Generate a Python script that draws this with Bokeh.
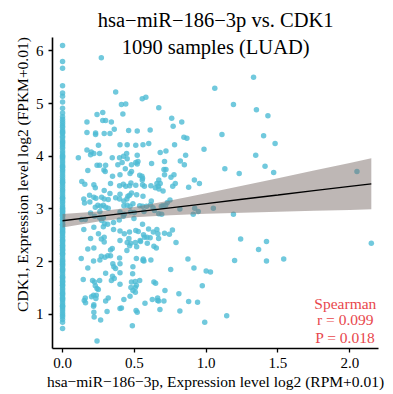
from bokeh.plotting import figure
from bokeh.models import FixedTicker, PrintfTickFormatter, Range1d, Label, ColumnDataSource
from bokeh.embed import file_html
from bokeh.resources import INLINE

# ---------------- data ----------------
title_lines = ["hsa\u2212miR\u2212186\u22123p vs. CDK1", "1090 samples (LUAD)"]
x_label = "hsa\u2212miR\u2212186\u22123p, Expression level log2 (RPM+0.01)"
y_label = "CDK1, Expression level log2 (FPKM+0.01)"
stat_lines = ["Spearman", "r = 0.099", "P = 0.018"]

x_ticks = [0, 0.5, 1, 1.5, 2]
y_ticks = [1, 2, 3, 4, 5, 6]

# samples with zero miRNA expression (x = 0)
zero_col_y = [6.10, 5.80, 5.67, 5.34, 5.20, 5.14, 5.03, 4.91, 4.82, 4.75, 4.70, 4.66, 4.62, 4.58,
              4.55, 4.50, 4.47, 4.43, 4.38, 4.35, 4.30, 4.27, 4.22, 4.18, 4.15, 4.10, 4.06, 4.02,
              3.98, 3.95, 3.91, 3.87, 3.83, 3.79, 3.75, 3.72, 3.68, 3.64, 3.60, 3.56, 3.53, 3.49,
              3.45, 3.41, 3.37, 3.34, 3.30, 3.26, 3.22, 3.19, 3.15, 3.12, 3.08, 3.04, 3.01, 2.97,
              2.93, 2.90, 2.86, 2.82, 2.79, 2.75, 2.71, 2.68, 2.64, 2.60, 2.57, 2.53, 2.49, 2.46,
              2.42, 2.38, 2.35, 2.31, 2.27, 2.24, 2.20, 2.16, 2.13, 2.09, 2.05, 2.02, 1.98, 1.94,
              1.91, 1.87, 1.83, 1.80, 1.76, 1.72, 1.69, 1.65, 1.61, 1.58, 1.54, 1.50, 1.47, 1.43,
              1.39, 1.36, 1.32, 1.28, 1.25, 1.21, 1.17, 1.14, 1.10, 1.06, 1.02, 0.98, 0.95, 0.90,
              0.85, 0.73,
              3.50, 3.20, 3.00, 2.88, 2.70, 2.55, 2.40, 2.30, 2.15, 2.00, 1.85, 1.70, 1.55, 1.40,
              3.80, 4.00, 4.25, 4.45, 2.95, 2.62, 2.22, 1.95, 1.62, 1.30, 1.15]

# samples with non-zero miRNA expression
mir_x = [0.27, 0.37, 0.555, 0.58, 0.41, 0.44, 0.67, 0.42, 0.24, 0.28, 0.17, 0.28, 0.30, 0.34,
         0.36, 0.17, 0.23, 0.23, 0.29, 0.33, 0.46, 0.52, 0.61,
         1.33, 1.06, 1.19, 1.35, 0.76, 0.77, 0.83, 0.845, 0.866, 1.11, 1.40, 0.78,
         1.43, 1.48, 1.345, 1.41, 1.47, 2.05,
         1.42, 1.365, 1.42, 1.54, 2.15,
         0.40, 0.45, 0.51, 0.56, 0.60, 0.985, 0.68, 0.72, 0.446, 0.415, 0.45, 0.51, 0.525, 0.52,
         0.62, 0.71, 0.82, 0.857, 0.848, 0.437, 0.48, 0.47, 0.706, 0.72, 0.71, 0.776, 0.755, 1.13,
         1.23, 0.553, 0.557, 0.555, 0.67, 0.68, 0.44, 0.51, 0.57, 0.615, 0.646, 0.667, 0.918, 0.953,
         0.878, 0.767, 0.785, 0.70, 0.40, 0.455, 0.48, 0.516, 0.448, 0.427, 0.618, 0.748, 0.73, 0.47,
         0.537, 0.557, 0.688, 0.70, 0.817, 0.92, 1.05,
         0.63, 0.718, 0.40, 0.43, 0.474, 0.50, 0.567, 0.64, 0.67, 0.69, 0.91, 0.945, 1.19, 0.423,
         0.497, 0.557, 0.40, 0.43, 0.466, 0.51, 0.57, 0.588, 0.632, 0.657, 0.664, 0.71, 0.744, 0.765,
         0.40, 0.45, 0.474, 0.507, 0.448, 0.516, 0.54, 0.59, 0.636, 0.653, 0.79, 1.24, 0.40, 0.514,
         0.562, 0.567, 0.49, 0.488, 0.48, 0.537, 0.507, 0.507, 0.636, 0.648, 0.753, 0.873, 0.915, 1.0,
         1.03, 1.198, 0.973, 0.713, 0.81, 0.427, 0.47, 0.574, 0.625, 0.662, 0.662, 0.706, 0.878, 0.94,
         0.40, 0.512, 0.52, 0.678, 0.817, 1.143, 0.99, 0.486,
         0.25, 0.11, 0.17, 0.20, 0.218, 0.195, 0.258, 0.346, 0.397, 0.425, 0.52, 0.24, 0.258, 0.30,
         0.385, 0.48, 0.288, 0.297, 0.348, 0.40, 0.537, 0.176, 0.134, 0.155, 0.218, 0.228, 0.29, 0.334,
         0.397, 0.423, 0.467, 0.476, 0.557, 0.657, 0.671,
         0.188, 0.218, 0.232, 0.272, 0.29, 0.318, 0.33, 0.37, 0.397, 0.467, 0.56,
         0.148, 0.153, 0.19, 0.228, 0.246, 0.265, 0.284, 0.30, 0.318, 0.427, 0.45, 0.49, 0.585, 0.613,
         0.195, 0.26, 0.223, 0.258, 0.284, 0.272, 0.293, 0.314, 0.355, 0.395, 0.218, 0.284, 0.25, 0.195,
         0.27, 0.29, 0.29, 0.355, 0.462, 0.543, 0.564, 0.527, 0.599, 0.61, 0.669, 0.132, 0.158, 0.148,
         0.176, 0.218, 0.346, 0.334, 0.467,
         0.13, 0.216, 0.26, 0.27, 0.295, 0.315, 0.334, 0.397, 0.35, 0.357, 0.369, 0.56, 0.615,
         0.176, 0.30, 0.348, 0.36, 0.34, 0.40, 0.144, 0.258, 0.506, 0.514, 0.476, 0.40, 0.49,
         0.228, 0.24, 0.249, 0.216, 0.202, 0.235, 0.158, 0.151, 0.16, 0.30, 0.318, 0.232, 0.218, 0.216,
         0.41, 0.669, 0.31, 0.218, 0.22, 0.265, 0.24, 0.209, 0.223]

cdk1_y = [5.87, 5.22, 5.09, 5.12, 4.98, 4.99, 4.92, 4.80, 4.79, 4.83, 4.65, 4.68, 4.68, 4.65,
          4.51, 4.45, 4.44, 4.41, 4.43, 4.43, 4.49, 4.48, 4.50,
          5.50, 5.29, 4.98, 4.88, 4.72, 4.57, 4.65, 4.36, 4.34, 4.41, 4.39, 4.22,
          4.77, 4.24, 4.02, 3.81, 3.69, 3.71,
          2.38, 2.23, 2.01, 2.05, 2.35,
          4.22, 4.22, 4.21, 4.22, 4.24, 4.13, 4.07, 4.10, 4.05, 3.88, 3.95, 3.88, 3.90, 3.85,
          3.86, 3.90, 3.91, 4.02, 3.84, 3.76, 3.71, 3.67, 3.75, 3.75, 3.65, 3.65, 3.60, 3.76,
          3.67, 3.62, 3.58, 3.55, 3.55, 3.48, 3.43, 3.45, 3.43, 3.44, 3.40, 3.43, 3.55, 3.48,
          3.41, 3.43, 3.48, 3.34, 3.28, 3.24, 3.30, 3.27, 3.19, 3.15, 3.15, 3.17, 3.12, 3.05,
          3.06, 3.05, 3.05, 3.06, 3.00, 3.01, 3.01,
          3.02, 3.07, 2.94, 2.90, 2.94, 2.93, 2.95, 2.97, 2.91, 2.90, 2.90, 2.95, 2.90, 2.86,
          2.82, 2.71, 2.58, 2.53, 2.56, 2.59, 2.46, 2.46, 2.56, 2.61, 2.53, 2.54, 2.52, 2.60,
          2.40, 2.36, 2.35, 2.36, 2.21, 2.28, 2.40, 2.35, 2.29, 2.26, 2.36, 2.43, 1.96, 2.06,
          2.05, 2.01, 1.90, 1.77, 1.61, 1.64, 1.51, 1.42, 1.61, 1.59, 1.85, 2.05, 1.88, 1.82,
          1.80, 2.02, 1.54, 1.45, 1.39, 1.28, 1.34, 1.21, 1.28, 1.31, 1.26, 1.25, 1.24, 1.23,
          1.11, 1.07, 1.04, 1.09, 1.06, 0.97, 0.85, 0.78,
          4.21, 3.97, 4.12, 4.08, 4.05, 4.03, 4.05, 3.97, 3.97, 4.00, 4.02, 3.83, 3.83, 3.83,
          3.84, 3.84, 3.74, 3.71, 3.62, 3.65, 3.64, 3.73, 3.52, 3.47, 3.46, 3.40, 3.35, 3.48,
          3.44, 3.47, 3.44, 3.49, 3.46, 3.48, 3.38,
          3.26, 3.22, 3.20, 3.22, 3.19, 3.18, 3.29, 3.21, 3.19, 3.26, 3.24,
          3.19, 3.11, 3.13, 3.03, 3.07, 3.05, 3.07, 3.03, 3.01, 3.06, 3.07, 3.10, 3.05, 3.08,
          2.92, 2.95, 2.86, 2.83, 2.83, 2.78, 2.72, 2.71, 2.74, 2.79, 2.65, 2.66, 2.53, 2.44,
          2.43, 2.46, 2.37, 2.61, 2.44, 2.38, 2.51, 2.57, 2.62, 2.45, 2.44, 2.80, 2.80, 2.61,
          2.24, 2.26, 2.25, 2.22, 2.30,
          2.06, 2.01, 2.03, 2.10, 2.08, 2.11, 2.11, 2.07, 1.96, 1.90, 1.87, 2.02, 2.03,
          1.88, 1.78, 1.72, 1.68, 1.64, 1.79, 1.66, 1.64, 1.62, 1.55, 1.51, 1.57, 1.45,
          1.54, 1.49, 1.47, 1.36, 1.33, 1.36, 1.31, 1.26, 1.22, 1.25, 1.31, 1.30, 1.18, 1.15,
          1.12, 1.25, 1.05, 1.04, 0.95, 0.89, 0.49, 1.64, 1.61]

# linear fit and its 95% confidence band
fit_x = [0.0, 0.25, 0.5, 0.75, 1.0, 1.25, 1.5, 1.75, 2.0, 2.15]
fit_y = [2.775, 2.857, 2.938, 3.020, 3.101, 3.183, 3.264, 3.346, 3.427, 3.476]
band_lo = [2.646, 2.763, 2.840, 2.881, 2.907, 2.928, 2.947, 2.965, 2.981, 2.991]
band_hi = [2.904, 2.951, 3.036, 3.159, 3.295, 3.438, 3.581, 3.727, 3.873, 3.961]

# axis extents of the panel
x_lim = (-0.07, 2.2)
y_lim = (0.35, 6.25)
y_view_top = 6.956   # leaves room above the panel for the two-line title

# ---------------- plot ----------------
all_x = [0.0] * len(zero_col_y) + mir_x
all_y = zero_col_y + cdk1_y
pts = ColumnDataSource(dict(x=all_x, y=all_y))
fit = ColumnDataSource(dict(x=fit_x, y=fit_y, lo=band_lo, hi=band_hi))

SERIF = "Liberation Serif"

p = figure(width=393, height=394, output_backend="svg", toolbar_location=None,
           x_range=Range1d(*x_lim), y_range=Range1d(y_lim[0], y_view_top),
           min_border_left=52, min_border_right=15, min_border_top=0, min_border_bottom=46)
p.background_fill_color = "white"
p.border_fill_color = "white"
p.outline_line_color = None
p.xgrid.visible = False
p.ygrid.visible = False

p.scatter("x", "y", source=pts, size=5.5, fill_color="#4DBBD5", fill_alpha=0.8, line_color=None)
p.varea(x="x", y1="lo", y2="hi", source=fit, fill_color="#7D6F6B", fill_alpha=0.5)
p.line("x", "y", source=fit, line_color="black", line_width=1.3)

for ax in (p.xaxis[0], p.yaxis[0]):
    ax.axis_line_color = "black"
    ax.axis_line_width = 1.6
    ax.major_tick_line_color = "black"
    ax.major_tick_line_width = 1.3
    ax.major_tick_in = 0
    ax.major_tick_out = 4
    ax.minor_tick_line_color = None
    ax.major_label_text_font = SERIF
    ax.major_label_text_font_size = "15px"
    ax.major_label_text_color = "black"
    ax.axis_label_text_font = SERIF
    ax.axis_label_text_font_size = "15.5px"
    ax.axis_label_text_font_style = "normal"
    ax.axis_label_text_color = "black"
    ax.major_label_standoff = 5
    ax.axis_label_standoff = 2

p.yaxis.bounds = y_lim
p.xaxis.ticker = FixedTicker(ticks=x_ticks)
p.xaxis.formatter = PrintfTickFormatter(format="%.1f")
p.yaxis.ticker = FixedTicker(ticks=y_ticks)
p.yaxis.formatter = PrintfTickFormatter(format="%d")
p.xaxis.axis_label = x_label
p.yaxis.axis_label = y_label

# title (two centred lines)
for txt, yy in zip(title_lines, [6.583, 6.074]):
    p.add_layout(Label(x=1.066, y=yy, text=txt, text_align="center", text_baseline="middle",
                       text_font=SERIF, text_font_size="20.5px", text_color="black"))

# statistics
for txt, yy in zip(stat_lines, [1.201, 0.898, 0.567]):
    p.add_layout(Label(x=1.969, y=yy, text=txt, text_align="center", text_baseline="middle",
                       text_font=SERIF, text_font_size="15.5px", text_color="#E8474C"))

open("out.html", "w").write(file_html(p, INLINE))
